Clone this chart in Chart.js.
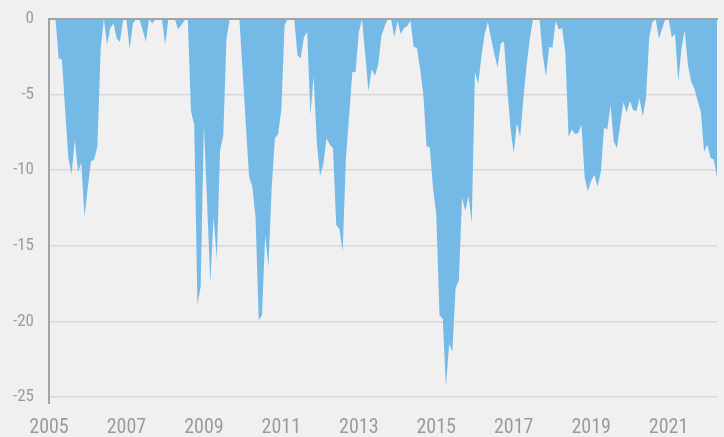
<!DOCTYPE html>
<html><head><meta charset="utf-8">
<script src="https://cdn.jsdelivr.net/npm/chart.js@4.4.1/dist/chart.umd.min.js"></script>
<style>
html,body{margin:0;padding:0;background:#f0f0f0;}
#wrap{width:724px;height:437px;position:relative;background:#f0f0f0;}
</style></head><body>
<div id="wrap"><canvas id="c" width="724" height="437"></canvas></div>
<script>
// Monthly drawdown (%), Jan 2005 – Mar 2022
const startYear = 2005;
const drawdown = [
  0, 0, -2.6, -2.7, -6.0, -9.2, -10.3, -8.0, -10.1, -9.5, -13.1, -11.2,
  -9.4, -9.3, -8.4, -2.0, 0, -1.7, -0.6, -0.3, -1.3, -1.5, 0, 0,
  -2.0, -0.3, 0, 0, -0.7, -1.5, 0, -0.3, 0, 0, 0, -1.7,
  0, 0, 0, -0.7, -0.4, -0.1, 0, -6.1, -7.0, -18.9, -17.7, -7.0,
  -12.2, -17.5, -13.1, -15.9, -8.7, -7.7, -1.3, 0, 0, 0, 0, -3.5,
  -7.0, -10.4, -11.1, -13.1, -19.9, -19.6, -14.3, -16.4, -11.2, -7.9, -7.6, -6.0,
  -0.4, 0, 0, 0, -2.4, -2.6, -1.2, -0.86, -6.35, -3.8, -8.2, -10.4,
  -9.6, -7.9, -8.3, -8.55, -13.6, -13.9, -15.4, -9.3, -6.4, -3.5, -3.5, -0.9,
  0, -2.4, -4.8, -3.3, -3.75, -3.05, -1.1, -0.5, 0, 0, -1.2, -0.15,
  -1.0, -0.6, -0.46, -0.1, -1.85, -1.9, -3.3, -5.0, -8.4, -8.5, -11.2, -12.9,
  -19.6, -19.8, -24.3, -21.5, -22.0, -17.8, -17.3, -11.8, -12.7, -11.7, -13.5, -3.5,
  -4.3, -2.5, -1.0, -0.2, -1.3, -2.3, -3.2, -1.6, -1.5, -4.6, -7.2, -8.9,
  -6.9, -7.8, -5.25, -3.05, -1.3, 0, 0, 0, -2.4, -3.8, -1.85, -1.9,
  -0.15, -0.7, -0.6, -2.2, -7.8, -7.3, -7.6, -7.55, -7.0, -10.5, -11.4, -10.7,
  -10.3, -11.1, -10.1, -7.2, -7.3, -5.7, -8.1, -8.55, -7.0, -5.5, -6.2, -5.4,
  -6.0, -6.1, -5.25, -6.45, -5.25, -1.2, -0.2, 0, -1.3, -0.64, 0, 0,
  -1.2, -1.0, -4.15, -1.95, -0.75, -3.05, -4.15, -4.6, -5.4, -6.15, -8.8, -8.3,
  -9.2, -9.3, -10.5
];
// month labels "YYYY-MM", one per value
const months = drawdown.map((_, i) => {
  const y = startYear + Math.floor(i / 12);
  const m = (i % 12) + 1;
  return y + '-' + String(m).padStart(2, '0');
});
const xTickYears = [2005, 2007, 2009, 2011, 2013, 2015, 2017, 2019, 2021];
const xTickLabels = ['2005', '2007', '2009', '2011', '2013', '2015', '2017', '2019', '2021'];
const yTickValues = [0, -5, -10, -15, -20, -25];

// month-end position in decimal years
function monthEnd(label) {
  const [y, m] = label.split('-').map(Number);
  return y + m / 12;
}
const points = months.map((mLabel, i) => ({ x: monthEnd(mLabel), y: drawdown[i] }));

// pick the narrowest installed condensed face
function hasFont(name) {
  const c = document.createElement('canvas').getContext('2d');
  const s = '2005 2017 -25 abcMWi';
  c.font = '40px monospace'; const a = c.measureText(s).width;
  c.font = "40px '" + name + "', monospace"; const b = c.measureText(s).width;
  c.font = '40px serif'; const a2 = c.measureText(s).width;
  c.font = "40px '" + name + "', serif"; const b2 = c.measureText(s).width;
  return a !== b || a2 !== b2;
}
const candidates = [
  { name: 'Roboto Condensed', xs: 20, ys: 17 },
  { name: 'Liberation Sans Narrow', xs: 21, ys: 18 },
  { name: 'Arial Narrow', xs: 21, ys: 18 },
  { name: 'DejaVu Sans Condensed', xs: 17, ys: 15 },
  { name: 'Liberation Sans', xs: 17, ys: 15 }
];
const chosen = candidates.find(c => hasFont(c.name)) || { name: 'sans-serif', xs: 17, ys: 15 };
const fontFam = "'" + chosen.name + "', sans-serif";

const axisColor = '#a3a3a3';
const gridColor = '#d7d7d7';
const textColor = '#9b9b9b';

const bg = {
  id: 'bg',
  beforeDraw(chart) {
    const c = chart.ctx;
    c.save(); c.fillStyle = '#f0f0f0'; c.fillRect(0, 0, chart.width, chart.height); c.restore();
  }
};
// zero line drawn above the filled area, from the y scale
const zeroLine = {
  id: 'zeroLine',
  afterDatasetsDraw(chart) {
    const { ctx, chartArea, scales } = chart;
    const y = Math.round(scales.y.getPixelForValue(0));
    ctx.save();
    ctx.strokeStyle = axisColor;
    ctx.lineWidth = 2;
    ctx.beginPath();
    ctx.moveTo(chartArea.left - 1, y);
    ctx.lineTo(chartArea.right + 1, y);
    ctx.stroke();
    ctx.restore();
  }
};

new Chart(document.getElementById('c'), {
  type: 'line',
  data: {
    datasets: [{
      data: points,
      fill: 'origin',
      backgroundColor: 'rgb(117,186,231)',
      borderColor: 'rgba(0,0,0,0)',
      borderWidth: 0,
      pointRadius: 0,
      tension: 0
    }]
  },
  options: {
    responsive: false,
    animation: false,
    devicePixelRatio: 1,
    layout: { padding: { left: 0, right: 7, top: 19, bottom: 0 } },
    plugins: { legend: { display: false }, tooltip: { enabled: false } },
    scales: {
      x: {
        type: 'linear',
        min: startYear,
        max: monthEnd(months[months.length - 1]),
        afterBuildTicks: axis => { axis.ticks = xTickYears.map(v => ({ value: v })); },
        afterFit: s => { s.height = 40; },
        border: { display: false },
        grid: {
          drawOnChartArea: false,
          drawTicks: true,
          tickLength: 7,
          lineWidth: 2,
          color: ctx => (ctx.index === 0 ? axisColor : 'rgba(0,0,0,0)')
        },
        ticks: {
          autoSkip: false,
          maxRotation: 0,
          padding: 12,
          color: textColor,
          font: { family: fontFam, size: chosen.xs },
          callback: (v) => xTickLabels[xTickYears.indexOf(v)]
        }
      },
      y: {
        min: -25,
        max: 0,
        afterBuildTicks: axis => { axis.ticks = yTickValues.map(v => ({ value: v })); },
        afterFit: s => { s.width = 49; },
        border: { display: true, color: axisColor, width: 2 },
        grid: {
          drawTicks: true,
          tickLength: 15,
          tickColor: 'rgba(0,0,0,0)',
          color: ctx => (ctx.tick && ctx.tick.value === 0 ? 'rgba(0,0,0,0)' : gridColor),
          lineWidth: 1.5
        },
        ticks: {
          padding: 0,
          color: textColor,
          font: { family: fontFam, size: chosen.ys },
          callback: v => String(v)
        }
      }
    }
  },
  plugins: [bg, zeroLine]
});
</script>
</body></html>
